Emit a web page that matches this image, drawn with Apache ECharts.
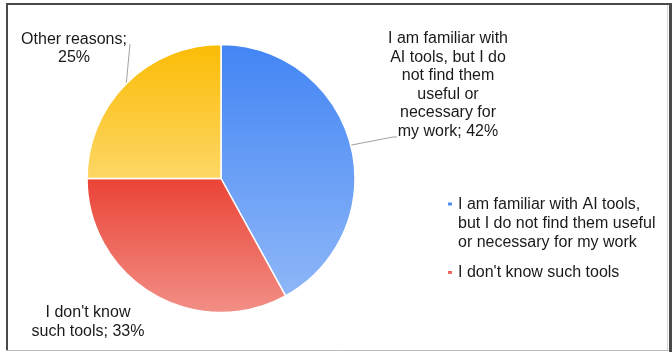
<!DOCTYPE html>
<html>
<head>
<meta charset="utf-8">
<script src="https://cdn.jsdelivr.net/npm/echarts@6/dist/echarts.min.js"></script>
<style>
  html, body { margin: 0; padding: 0; background: #fff; }
  #chart { width: 672px; height: 352px; }
</style>
</head>
<body>
<div id="chart"></div>
<script>
// Reasons for not using AI tools (share of respondents, %)
const categories = [
  'I am familiar with AI tools, but I do not find them useful or necessary for my work',
  "I don't know such tools",
  'Other reasons'
];
const shares = [42, 33, 25];

// Wrapped text for the slice labels and the legend
const sliceLabelText = [
  'I am familiar with\nAI tools, but I do\nnot find them\nuseful or\nnecessary for\nmy work',
  "I don't know\nsuch tools",
  'Other reasons'
];
const sliceLabelSep = [' ', ' ', '\n'];
const legendText = [
  'I am familiar with AI tools,\nbut I do not find them useful\nor necessary for my work',
  "I don't know such tools"
];

const FONT = '"Liberation Sans", Arial, sans-serif';
const grad = (top, bottom) => new echarts.graphic.LinearGradient(0, 0, 0, 1, [
  { offset: 0, color: top }, { offset: 1, color: bottom }
]);
const sliceFills = [
  grad('#4285f4', '#8fb7f8'),
  grad('#ea4335', '#f28f86'),
  grad('#fbbc04', '#fdd766')
];

// Label placement (centre of each text block) and leader line ends
const labelSpots = [
  { x: 448, y: 85, line: (p) => [p, [393, 137], [397, 137]] },
  { x: 88, y: 322, line: null },
  { x: 74, y: 48.5, line: (p) => [p, [130, 44]] }
];

// Legend marker for a three-line entry: small square level with the first line
const topLineIcon = 'path://M0,6h6v5h-6z M0,0h0.01v0.01h-0.01z M0,57h0.01v0.01h-0.01z';

const chart = echarts.init(document.getElementById('chart'), null, { renderer: 'canvas' });

const data = categories.map((name, i) => ({
  name,
  value: shares[i],
  itemStyle: { color: sliceFills[i] },
  labelLine: { show: i !== 1 }
}));

const legendBase = {
  orient: 'vertical',
  left: 446,
  padding: 0,
  selectedMode: false,
  textStyle: { fontFamily: FONT, fontSize: 16, color: '#1a1a1a', lineHeight: 19 }
};

chart.setOption({
  animation: false,
  backgroundColor: '#fff',
  textStyle: { fontFamily: FONT },
  graphic: [
    // frame around the chart area
    { type: 'line', shape: { x1: 7, y1: 3, x2: 7, y2: 351 }, style: { stroke: '#4a4a4a', lineWidth: 2 } },
    { type: 'line', shape: { x1: 6, y1: 4, x2: 669, y2: 4 }, style: { stroke: '#4a4a4a', lineWidth: 2 } },
    { type: 'line', shape: { x1: 670.5, y1: 3, x2: 670.5, y2: 352 }, style: { stroke: '#4a4a4a', lineWidth: 3 } },
    { type: 'line', shape: { x1: 6, y1: 350.5, x2: 669, y2: 350.5 }, style: { stroke: '#bdbdbd', lineWidth: 1 } },
    { type: 'line', shape: { x1: 667.5, y1: 5, x2: 667.5, y2: 350 }, style: { stroke: '#d6d6d6', lineWidth: 1 } }
  ],
  legend: [
    Object.assign({}, legendBase, {
      data: [{ name: categories[0] }],
      top: 194.5,
      itemWidth: 6,
      itemHeight: 57,
      icon: topLineIcon,
      formatter: () => legendText[0]
    }),
    Object.assign({}, legendBase, {
      data: [{ name: categories[1] }],
      top: 263,
      itemWidth: 6,
      itemHeight: 5,
      icon: 'rect',
      formatter: () => legendText[1]
    })
  ],
  series: [{
    type: 'pie',
    center: [221, 178.5],
    radius: [0, 134],
    startAngle: 90,
    clockwise: true,
    data,
    itemStyle: { borderColor: '#fff', borderWidth: 1.5 },
    emphasis: { disabled: true },
    label: {
      show: true,
      position: 'outside',
      overflow: 'none',
      fontFamily: FONT,
      fontSize: 16,
      lineHeight: 18.6,
      color: '#1a1a1a',
      align: 'center',
      formatter: (p) => sliceLabelText[p.dataIndex] + ';' + sliceLabelSep[p.dataIndex] + p.value + '%'
    },
    labelLine: { show: true, length: 10, length2: 10, lineStyle: { color: '#a0a0a0', width: 1 } },
    labelLayout: (params) => {
      const spot = labelSpots[params.dataIndex];
      const out = { x: spot.x, y: spot.y, align: 'center', verticalAlign: 'middle' };
      if (spot.line && params.labelLinePoints && params.labelLinePoints.length) {
        out.labelLinePoints = spot.line(params.labelLinePoints[0]);
      }
      return out;
    }
  }]
});
</script>
</body>
</html>
